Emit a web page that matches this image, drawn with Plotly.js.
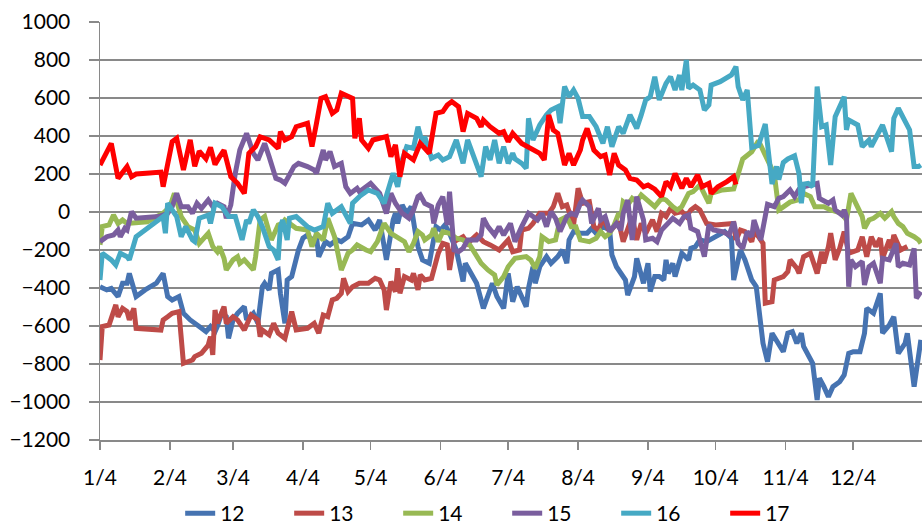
<!DOCTYPE html>
<html>
<head>
<meta charset="utf-8">
<script src="https://cdn.plot.ly/plotly-3.0.1.min.js"></script>
<style>
  html, body { margin: 0; padding: 0; background: #fff; }
  #chart_div { width: 924px; height: 524px; }
</style>
</head>
<body>
<div id="chart_div"></div>
<script>
var names = ["12", "13", "14", "15", "16", "17"];
var colors = ["#4673B1", "#BE4B48", "#98B954", "#7A5E9E", "#46A9C4", "#FF0000"];
var monthTicks = ["1/4", "2/4", "3/4", "4/4", "5/4", "6/4", "7/4", "8/4", "9/4", "10/4", "11/4", "12/4"];

var days12 = [0,3,5,8,10,12,13,16,20,25, 28,30,32,35,37,40,44,47,49,51, 52,54,56,57,59,61,64,65,68,70,
  72,73,75,76,79,80,82,83,85,87, 88,90,92,94,96,97,100,102,105,107, 110,112,116,119,122,124,127,130,131,132,
  134,136,138,140,141,143,146,149,151,153, 155,158,161,162,165,167,170,172,174,176, 179,181,183,185,189,190,192,193,195,198,
  200,203,205,207,208,210,213,216,218,220, 223,226,227,229,232,233,234,237,238,241, 243,244,246,248,250,251,252,254,255,258,
  261,262,264,266,269,277,280,281,284,286, 289,291,294,296,298,301,303,305,307,309, 311,312,316,318,319,321,323,325,328,330,
  332,334,337,339,340,343,346,347,350,352, 354,357,358,361,363,364];
var vals12 = [-393,-410,-402,-445,-375,-375,-323,-445,-410,-375, -323,-445,-463,-445,-533,-568,-603,-630,-603,-630,
  -603,-533,-551,-665,-568,-533,-498,-568,-533,-586, -393,-375,-410,-323,-305,-428,-586,-358,-340,-235,
  -200,-138,-121,-147,-130,-235,-156,-173,-147,-156, -130,-60,-68,-42,-95,-42,-252,-42,-7,-60,
  37,-7,28,-121,-182,-252,-270,-77,-95,-68, -112,-200,-366,-270,-331,-375,-507,-437,-375,-445,
  -507,-323,-472,-393,-498,-402,-288,-375,-288,-235, -270,-235,-200,-270,-147,-103,-112,-112,-86,-112,
  -77,-95,-226,-288,-340,-358,-437,-340,-244,-375, -270,-419,-340,-340,-358,-252,-323,-270,-340,-217,
  -252,-191,-182,-147,-156,-103,-138,-358,-200,-252, -358,-393,-691,-787,-638,-691,-735,-638,-630,-691,
  -638,-708,-796,-989,-875,-919,-972,-919,-893,-858, -744,-735,-735,-638,-507,-533,-428,-638,-595,-551,
  -744,-691,-638,-919,-726,-673];

var days13 = [0,1,4,7,8,10,12,13,15,16, 27,28,30,32,35,37,41,42,45,48, 49,50,51,52,55,56,59,61,64,67,
  70,71,72,75,77,79,82,85,87,92, 95,97,99,101,103,105,107,108,110,112, 115,119,122,124,126,127,129,131,132,133,
  135,138,139,141,142,144,147,148,150,152, 154,155,157,161,163,167,170,173,177,181, 183,186,187,190,192,195,199,201,203,205,
  207,210,211,212,214,217,219,221,223,226, 228,230,232,234,236,238,240,242,245,247, 249,251,253,255,258,260,262,264,266,269,
  273,281,282,284,286,289,290,292,294,295, 298,299,303,305,306,309,310,312,315,318, 320,321,323,324,326,328,330,332,336,338,
  340,342,344,346,347,350,351,352,355,358];
var vals13 = [-779,-603,-595,-489,-551,-507,-524,-568,-507,-612, -621,-568,-551,-533,-524,-796,-779,-761,-744,-700,
  -656,-752,-516,-586,-498,-586,-551,-568,-621,-542, -568,-656,-621,-647,-586,-638,-665,-524,-621,-612,
  -586,-638,-542,-551,-463,-454,-428,-349,-419,-393, -375,-375,-349,-358,-410,-516,-366,-419,-296,-428,
  -340,-358,-323,-410,-331,-358,-349,-305,-217,-165, -173,-305,-156,-130,-165,-121,-156,-173,-200,-147,
  -209,-200,-95,-86,-60,-7,-7,28,98,28, 37,-68,28,125,46,54,-77,-95,-33,-103,
  -77,-51,-156,-95,-24,-147,-60,-112,-42,-103, -7,-24,19,-7,2,-24,11,28,11,-60,
  -68,-60,-147,-95,-103,-156,-103,-130,-165,-480, -472,-358,-340,-314,-252,-296,-323,-235,-217,-323,
  -209,-270,-182,-112,-252,-191,-103,-217,-200,-130, -235,-130,-182,-138,-244,-147,-191,-121,-200,-182];

var days14 = [0,1,4,6,8,10,12,21,28,31, 33,36,39,42,44,48,50,52,53,55, 56,59,61,62,64,68,69,71,73,75,
  76,79,81,82,87,92,94,96,99,101, 104,107,110,112,114,118,120,123,126,129, 132,135,137,139,141,143,144,147,148,150,
  152,155,158,161,164,167,169,172,175,176, 179,181,184,189,191,193,195,196,199,202, 204,207,209,211,213,217,220,222,224,226,
  228,230,231,232,234,236,238,240,243,246, 249,251,254,256,258,261,263,266,270,271, 276,281,285,289,292,295,299,301,306,310,
  312,315,317,321,324,329,331,333,335,338, 339,341,343,346,348,351,352,354,356,358, 361,363,364];
var vals14 = [-173,-77,-68,-16,-60,-42,-60,-51,-7,28, 98,-24,-77,-95,-165,-112,-182,-209,-182,-244,
  -305,-252,-235,-270,-252,-305,-235,-42,-24,-95, -147,-68,-60,-42,-86,-95,-182,-112,-147,-33,
  -130,-305,-217,-200,-173,-200,-209,-156,-60,-112, -138,-156,-209,-165,-103,-121,-147,-121,-86,-156,
  -103,-112,-138,-147,-173,-226,-270,-305,-331,-384, -340,-288,-244,-235,-252,-296,-235,-130,-156,-147,
  -42,-24,-77,-77,-147,-156,-138,-103,-130,-112, -68,-7,-24,54,37,72,54,90,63,28,
  72,63,28,11,28,98,107,142,46,98, 116,121,279,317,375,300,199,10,52,65,
  98,81,28,28,11,-7,-42,98,46,-24, -86,-42,-33,-7,-33,2,-24,-60,-77,-112, -130,-147,-165];

var days15 = [0,3,6,8,9,11,12,14,16,26, 30,32,34,36,39,41,43,45,48,50, 52,55,56,58,60,62,65,68,70,73,
  75,78,80,82,86,88,92,95,96,99, 100,102,104,107,109,111,114,115,120,123, 124,127,129,131,134,137,139,141,142,144,
  147,148,150,152,154,155,157,159,161,163, 167,169,170,172,175,177,179,182,184,187, 190,192,194,196,198,200,202,204,207,209,
  211,213,214,217,218,221,222,224,226,229, 231,232,234,236,238,241,242,245,247,249, 252,254,257,259,261,262,265,268,270,272,
  276,279,281,283,285,287,289,290,293,296, 299,301,303,306,308,310,312,318,319,323, 325,326,329,330,331,332,333,335,338,339,
  341,343,346,347,350,353,354,356,359,361, 362,364];
var vals15 = [-156,-130,-121,-95,-130,-86,-95,2,-33,-24, -7,28,98,28,28,-7,46,19,63,28,
  46,28,-33,37,204,326,414,309,274,361, 291,177,168,151,239,256,239,221,204,326,
  274,318,239,256,133,98,125,107,151,116, 98,-7,98,46,-7,-33,11,81,90,46,
  28,-60,37,81,-68,107,-200,-209,-191,-147, -147,-121,-33,-77,-121,-77,-121,-60,-156,-77,
  -7,-24,-42,-7,-77,2,-33,-103,-24,-7, -16,46,63,28,-60,19,-42,-24,-103,-60,
  -95,-7,63,-147,81,-42,-147,-138,-156,-95, -60,-33,-60,-24,-16,-86,-103,-235,-68,-95,
  -103,-121,-51,-165,-191,-103,-130,-42,-147,40, 28,72,81,116,81,120,133,151,72,46,
  63,11,-16,11,-24,-393,-252,-288,-261,-384, -288,-270,-375,-244,-252,-165,-288,-270,-279,-191,
  -454,-419];

var days16 = [0,1,5,7,9,12,13,16,20,24, 28,29,30,32,34,36,38,41,42,44, 48,49,51,54,57,60,63,65,66,68,
  70,72,75,77,79,80,81,83,84,87, 90,92,95,99,101,103,107,110,111,112, 115,119,123,126,128,130,132,134,136,139,
  141,143,144,147,150,152,155,158,161,163, 169,171,173,175,177,179,181,183,184,187, 189,190,192,195,198,200,203,204,206,208,
  210,212,214,217,220,223,225,227,230,232, 235,238,240,242,244,246,248,251,253,255, 257,258,260,261,263,266,268,270,271,275,
  280,282,283,285,287,289,292,295,298,300, 301,303,305,308,310,311,312,314,316,318, 320,322,324,326,330,331,332,336,338,341,
  342,345,347,351,352,354,359,361,363,364];
var vals16 = [-358,-217,-252,-279,-217,-235,-252,-130,-95,-60, -24,-112,46,11,-24,-130,-77,-147,-156,-33,
  -16,-60,46,28,-24,-24,-147,-42,-60,11, -24,-77,-182,-200,-252,-77,-42,-147,-33,-24,
  -60,-77,-95,-77,46,-7,28,-42,-60,46, 81,116,98,46,133,204,133,274,344,335,
  449,361,396,283,300,274,291,379,256,379, 186,344,274,379,256,344,256,309,280,256,
  230,493,379,458,511,537,554,467,660,607, 642,598,502,502,449,361,449,344,449,414,
  511,440,511,590,607,712,590,677,712,642, 721,642,800,651,668,642,537,563,668,686,
  721,765,659,590,642,340,350,463,147,240, 170,261,279,296,200,46,147,151,133,660,
  449,458,247,502,607,432,484,458,344,379, 344,414,458,318,493,546,432,239,239,247];

var days17 = [0,5,8,12,14,16,22,27,28,32, 34,37,40,42,44,47,49,51,53,55, 58,61,64,66,69,71,75,79,80,82,
  85,87,92,94,96,98,100,103,105,107, 112,113,115,116,119,121,124,127,129,131, 133,135,139,142,146,149,152,154,156,159,
  161,163,167,169,170,173,177,179,181,183, 187,190,195,197,199,201,203,206,208,210, 213,214,216,219,222,224,226,228,230,233,
  235,238,241,243,246,249,251,253,255,258, 260,262,265,267,270,271,274,278,281,282];
var vals17 = [247,361,177,239,186,200,205,210,133,370, 388,221,380,240,320,280,340,250,290,325,
  186,151,98,309,344,396,379,335,423,379, 396,449,467,344,467,598,607,519,537,625,
  598,388,493,379,335,379,388,397,291,353, 186,309,274,361,309,519,528,563,581,554,
  423,519,493,449,484,449,414,423,370,414, 361,344,309,274,511,432,414,247,309,247,
  326,379,440,326,291,300,195,309,247,221, 177,168,133,142,120,81,160,133,203,125,
  177,133,195,133,151,98,133,160,186,145];

var allDays = [days12, days13, days14, days15, days16, days17];
var allVals = [vals12, vals13, vals14, vals15, vals16, vals17];

function toDate(d) {
  var t = new Date(Date.UTC(2001, 0, 4 + d));
  return t.toISOString().slice(0, 10);
}

var FONT = "Lato, Carlito, Calibri, 'Liberation Sans', sans-serif";
var data = [];
for (var i = 0; i < names.length; i++) {
  data.push({
    type: "scatter",
    mode: "lines",
    name: names[i],
    x: allDays[i].map(toDate),
    y: allVals[i],
    line: {color: colors[i], width: 5},
    hoverinfo: "skip"
  });
}

var tickDates = monthTicks.map(function (s, k) { return "2001-" + (k + 1 < 10 ? "0" : "") + (k + 1) + "-04"; });

var layout = {
  width: 924,
  height: 524,
  margin: {l: 100, r: 2, t: 22, b: 84},
  paper_bgcolor: "#ffffff",
  plot_bgcolor: "#ffffff",
  font: {family: FONT, size: 21, color: "#000000"},
  showlegend: true,
  xaxis: {
    type: "date",
    range: ["2001-01-04", "2002-01-03 12:00"],
    tickvals: tickDates,
    ticktext: monthTicks,
    showgrid: false,
    zeroline: false,
    showline: true,
    linecolor: "#898989",
    linewidth: 1.5,
    ticks: "outside",
    ticklen: 8,
    tickwidth: 1.5,
    tickcolor: "#898989",
    ticklabelstandoff: 10,
    tickfont: {family: FONT, size: 21}
  },
  yaxis: {
    range: [-1200, 1000],
    dtick: 200,
    tick0: 0,
    showgrid: true,
    gridcolor: "#898989",
    gridwidth: 1.5,
    zeroline: false,
    showline: true,
    linecolor: "#898989",
    linewidth: 1.5,
    ticks: "outside",
    ticklen: 10,
    tickwidth: 1.5,
    tickcolor: "#898989",
    ticklabelstandoff: 14,
    tickfont: {family: FONT, size: 21}
  },
  legend: {
    orientation: "h",
    xref: "container",
    yref: "container",
    x: 0.195,
    xanchor: "left",
    y: 0.02,
    yanchor: "middle",
    font: {family: FONT, size: 21},
    entrywidth: 64,
    itemwidth: 30,
    tracegroupgap: 0
  }
};

Plotly.newPlot("chart_div", data, layout, {displayModeBar: false, staticPlot: true});
</script>
</body>
</html>
